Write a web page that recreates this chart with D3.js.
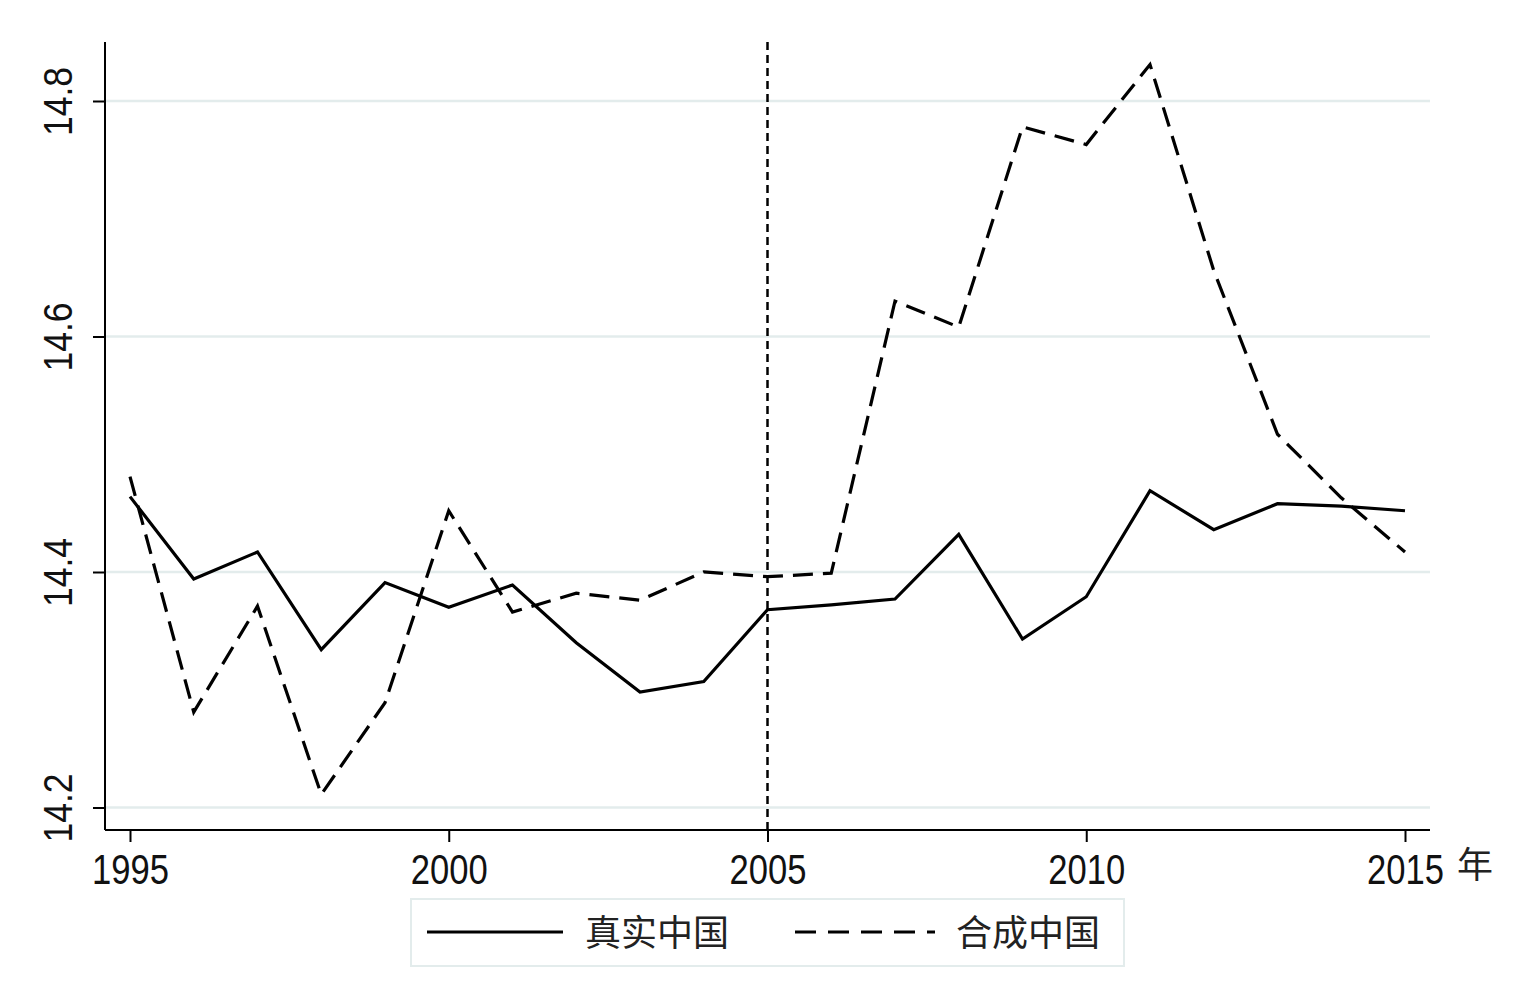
<!DOCTYPE html>
<html>
<head>
<meta charset="utf-8">
<script src="https://cdn.jsdelivr.net/npm/d3@7"></script>
<style>
  html, body { margin: 0; padding: 0; background: #fff; }
  svg { display: block; }
</style>
</head>
<body>
<svg id="chart" width="1523" height="994"></svg>
<script>
const years = d3.range(1995, 2016);
const realChina = [14.464, 14.394, 14.417, 14.334, 14.391, 14.370, 14.389, 14.340, 14.298, 14.307,
                   14.368, 14.372, 14.377, 14.432, 14.343, 14.379, 14.469, 14.436, 14.458, 14.456, 14.452];
const syntheticChina = [14.481, 14.281, 14.371, 14.211, 14.289, 14.452, 14.366, 14.382, 14.376, 14.400,
                        14.396, 14.399, 14.630, 14.608, 14.778, 14.763, 14.831, 14.656, 14.517, 14.463, 14.417];
const xTicks = [1995, 2000, 2005, 2010, 2015];
const yTicks = [14.2, 14.4, 14.6, 14.8];
const treatYear = 2005;
const seriesNames = ["真实中国", "合成中国"];
const xUnit = "年";

const svg = d3.select("#chart");
const mLeft = 105, mRight = 1430, mTop = 42, mBottom = 830;

const x = d3.scaleLinear().domain([1995, 2015]).range([130, 1405]);
const y = d3.scaleLinear().domain([14.2, 14.8]).range([807.5, 101]);

// gridlines
svg.append("g").selectAll("line").data(yTicks).join("line")
  .attr("x1", mLeft).attr("x2", mRight)
  .attr("y1", d => y(d)).attr("y2", d => y(d))
  .attr("stroke", "#e3ecec").attr("stroke-width", 2.5);

// axes
const yAxis = d3.axisLeft(y).tickValues(yTicks).tickSize(12).tickFormat(d3.format(".1f"));
const gy = svg.append("g").attr("transform", `translate(${mLeft},0)`).call(yAxis);
gy.select(".domain").attr("d", `M0,${mTop}V${mBottom}`).attr("stroke", "#000").attr("stroke-width", 2);
gy.selectAll(".tick line").attr("stroke", "#000").attr("stroke-width", 2);
gy.selectAll(".tick text")
  .attr("font-family", "Liberation Sans, Arial, sans-serif")
  .attr("font-size", 41).attr("fill", "#111")
  .attr("text-anchor", "middle")
  .attr("x", 0).attr("y", 0).attr("dy", 0)
  .attr("transform", "translate(-33,0) rotate(-90) scale(0.865,1)");

const xAxis = d3.axisBottom(x).tickValues(xTicks).tickSize(12).tickFormat(d3.format("d"));
const gx = svg.append("g").attr("transform", `translate(0,${mBottom})`).call(xAxis);
gx.select(".domain").attr("d", `M${mLeft},0H${mRight}`).attr("stroke", "#000").attr("stroke-width", 2);
gx.selectAll(".tick line").attr("stroke", "#000").attr("stroke-width", 2);
gx.selectAll(".tick text")
  .attr("font-family", "Liberation Sans, Arial, sans-serif")
  .attr("font-size", 42).attr("fill", "#111")
  .attr("x", 0).attr("y", 0).attr("dy", 0)
  .attr("transform", "translate(0,54) scale(0.824,1)");

svg.append("text")
  .attr("x", 1457).attr("y", 878)
  .attr("font-family", "Noto Sans CJK SC, sans-serif")
  .attr("font-size", 36).attr("fill", "#222")
  .text(xUnit);

// treatment line
svg.append("line")
  .attr("x1", x(treatYear)).attr("x2", x(treatYear))
  .attr("y1", mTop).attr("y2", mBottom)
  .attr("stroke", "#000").attr("stroke-width", 2.5)
  .attr("stroke-dasharray", "8,5");

const line = d3.line().x((d, i) => x(years[i])).y(d => y(d));

svg.append("path").datum(realChina)
  .attr("d", line).attr("fill", "none")
  .attr("stroke", "#000").attr("stroke-width", 3.2).attr("stroke-linejoin", "miter");

svg.append("path").datum(syntheticChina)
  .attr("d", line).attr("fill", "none")
  .attr("stroke", "#000").attr("stroke-width", 3.2)
  .attr("stroke-dasharray", "20,10");

// legend
const lg = svg.append("g");
lg.append("rect").attr("x", 411).attr("y", 899).attr("width", 713).attr("height", 67)
  .attr("fill", "#fff").attr("stroke", "#e3ecec").attr("stroke-width", 2);
lg.append("line").attr("x1", 427).attr("x2", 563).attr("y1", 932).attr("y2", 932)
  .attr("stroke", "#000").attr("stroke-width", 3.2);
lg.append("text").attr("x", 585).attr("y", 946)
  .attr("font-family", "Noto Sans CJK SC, sans-serif").attr("font-size", 36).attr("fill", "#222")
  .text(seriesNames[0]);
lg.append("line").attr("x1", 795).attr("x2", 935).attr("y1", 932).attr("y2", 932)
  .attr("stroke", "#000").attr("stroke-width", 3.2).attr("stroke-dasharray", "21,12");
lg.append("text").attr("x", 956).attr("y", 946)
  .attr("font-family", "Noto Sans CJK SC, sans-serif").attr("font-size", 36).attr("fill", "#222")
  .text(seriesNames[1]);
</script>
</body>
</html>
